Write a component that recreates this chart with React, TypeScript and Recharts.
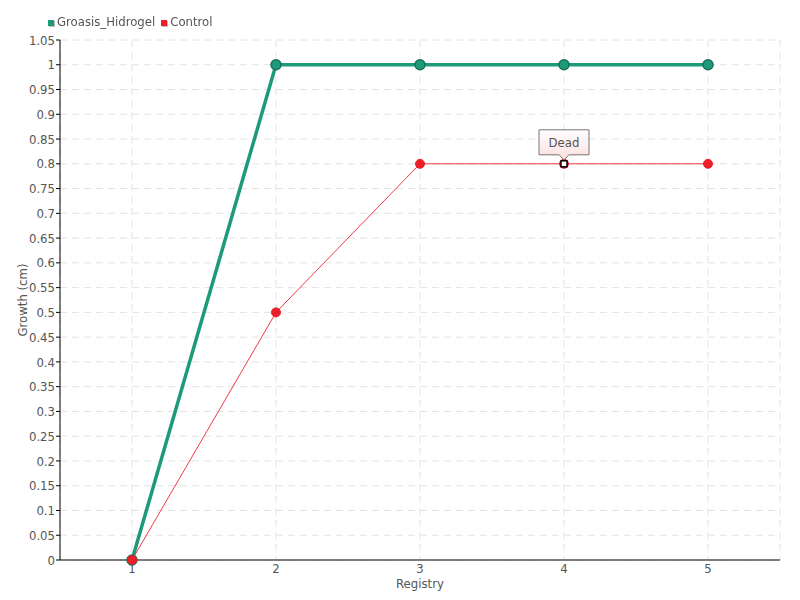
import React from "react";
import {
  LineChart, Line, XAxis, YAxis, CartesianGrid, Legend,
} from "recharts";

const registry = [1, 2, 3, 4, 5];
const groasisHidrogel = [0, 1, 1, 1, 1];
const control = [0, 0.5, 0.8, 0.8, 0.8];
const yTicks = [
  0, 0.05, 0.1, 0.15, 0.2, 0.25, 0.3, 0.35, 0.4, 0.45, 0.5,
  0.55, 0.6, 0.65, 0.7, 0.75, 0.8, 0.85, 0.9, 0.95, 1, 1.05,
];
const note = { registry: 4, text: "Dead" };

const GREEN = "#1e9a7b";
const GREEN_DARK = "#16735c";
const RED = "#ee1d2a";
const RED_LINE = "#f23a45";
const FONT = "'DejaVu Sans Condensed', 'Liberation Sans Narrow', sans-serif";

const rows = registry.map((r, i) => ({
  registry: r,
  groasis: groasisHidrogel[i],
  control: control[i],
}));

const legendItems = [
  { label: "Groasis_Hidrogel", color: GREEN },
  { label: "Control", color: RED },
];

function LegendContent() {
  return (
    <div style={{ display: "flex", alignItems: "center", fontFamily: FONT, fontSize: 13, color: "#555", height: 20 }}>
      {legendItems.map((it) => (
        <span key={it.label} style={{ display: "flex", alignItems: "center", marginRight: 6 }}>
          <span style={{ width: 6, height: 6, background: it.color, boxShadow: "1px 1px 0 #bbb", marginRight: 3, marginTop: 3 }} />
          {it.label}
        </span>
      ))}
    </div>
  );
}

function ControlDot(props: any) {
  const { cx, cy, payload, index } = props;
  if (cx == null || cy == null) return null;
  const dot = <circle cx={cx} cy={cy} r={4.5} fill={RED} stroke={RED} strokeWidth={1} />;
  if (payload?.registry !== note.registry) return <g key={index}>{dot}</g>;
  const w = 50, h = 25, top = cy - 34;
  const left = cx - w / 2;
  return (
    <g key={index}>
      <defs>
        <linearGradient id="deadGrad" x1="0" y1="0" x2="0" y2="1">
          <stop offset="0%" stopColor="#ffffff" />
          <stop offset="100%" stopColor="#fcdede" />
        </linearGradient>
      </defs>
      {dot}
      <path
        d={`M${left},${top} H${left + w} V${top + h} H${cx + 5} L${cx},${top + h + 5} L${cx - 5},${top + h} H${left} Z`}
        fill="url(#deadGrad)"
        stroke="#777"
        strokeWidth={1}
      />
      <text x={cx} y={top + h / 2 + 5} textAnchor="middle" fontFamily={FONT} fontSize={13} fill="#555">
        {note.text}
      </text>
      <rect x={cx - 3} y={cy - 3} width={6} height={6} fill="#fff" stroke="#000" strokeWidth={1.5} />
    </g>
  );
}

export default function App() {
  return (
    <div style={{ position: "fixed", left: 0, top: 0, width: 800, height: 600, background: "#fff" }}>
      <LineChart width={800} height={600} data={rows} margin={{ top: 20, right: 20, bottom: 10, left: 0 }}>
        <CartesianGrid stroke="#e2e2e2" strokeDasharray="7 5" />
        <XAxis
          dataKey="registry"
          padding={{ left: 72, right: 72 }}
          tickSize={0}
          tickMargin={4}
          axisLine={{ stroke: "#000" }}
          tick={{ fontSize: 13, fill: "#555", fontFamily: FONT }}
          height={30}
          label={{ value: "Registry", position: "insideBottom", offset: 2, fontSize: 13, fill: "#555", fontFamily: FONT }}
        />
        <YAxis
          domain={[0, 1.05]}
          ticks={yTicks}
          interval={0}
          width={60}
          tickSize={4}
          tickMargin={1}
          axisLine={{ stroke: "#000" }}
          tickLine={{ stroke: "#000" }}
          tick={{ fontSize: 13, fill: "#555", fontFamily: FONT }}
          label={{ value: "Growth (cm)", angle: -90, position: "insideLeft", offset: 22, fontSize: 13, fill: "#555", fontFamily: FONT, style: { textAnchor: "middle" } }}
        />
        <Legend verticalAlign="top" align="left" content={<LegendContent />} wrapperStyle={{ paddingLeft: 48, top: 11 }} />
        <Line
          dataKey="groasis"
          name="Groasis_Hidrogel"
          stroke={GREEN}
          strokeWidth={3.5}
          dot={{ r: 5, fill: GREEN, stroke: GREEN_DARK, strokeWidth: 1.5 }}
          activeDot={false}
          isAnimationActive={false}
        />
        <Line
          dataKey="control"
          name="Control"
          stroke={RED_LINE}
          strokeWidth={1}
          dot={<ControlDot />}
          activeDot={false}
          isAnimationActive={false}
        />
      </LineChart>
    </div>
  );
}
